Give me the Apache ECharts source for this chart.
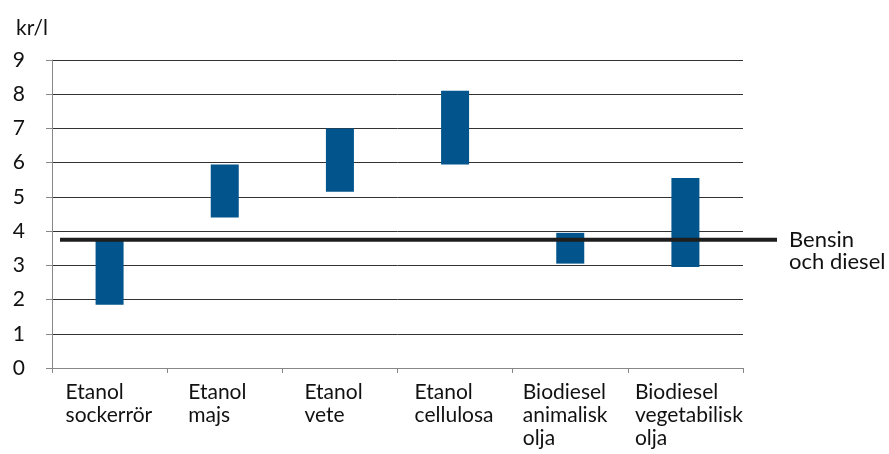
<!DOCTYPE html>
<html>
<head>
<meta charset="utf-8">
<script src="https://cdn.jsdelivr.net/npm/echarts@6/dist/echarts.min.js"></script>
<style>
  html, body { margin: 0; padding: 0; background: #fff; }
  #chart { width: 889px; height: 454px; }
</style>
</head>
<body>
<div id="chart"></div>
<script>
// kostnadsintervall per drivmedel (kr/l)
var categories = [
    'Etanol\nsockerrör',
    'Etanol\nmajs',
    'Etanol\nvete',
    'Etanol\ncellulosa',
    'Biodiesel\nanimalisk\nolja',
    'Biodiesel\nvegetabilisk\nolja'
];
var lowValues = [1.85, 4.4, 5.15, 5.95, 3.05, 2.95];
var highValues = [3.72, 5.95, 7.0, 8.1, 3.95, 5.55];
var referenceLevel = 3.75;
var referenceLabel = 'Bensin\noch diesel';
var yTicks = [0, 1, 2, 3, 4, 5, 6, 7, 8, 9];

var fontName = 'Lato';
// bredd på etikettboxarna (centrerade, texten vänsterställd)
var labelBoxWidths = [88, 73, 71, 81, 95, 101];

var chart = echarts.init(document.getElementById('chart'));

var spans = highValues.map(function (h, i) {
    return +(h - lowValues[i]).toFixed(2);
});

var richStyles = {};
labelBoxWidths.forEach(function (w, i) {
    richStyles['b' + i] = {
        width: w, align: 'left', fontSize: 21, lineHeight: 23,
        fontFamily: fontName, color: '#111'
    };
});

var options = {
    animation: false,
    textStyle: { fontFamily: fontName, color: '#111' },
    title: {
        text: 'kr/l',
        left: 11,
        top: 13,
        textStyle: { fontFamily: fontName, fontSize: 21, fontWeight: 'normal', color: '#111' }
    },
    grid: [
        { left: 52, right: 146, top: 60, bottom: 86 },
        { left: 60, right: 112, top: 60, bottom: 86 }
    ],
    xAxis: [
        {
            type: 'category',
            gridIndex: 0,
            data: categories,
            axisLine: { lineStyle: { color: '#888', width: 1 } },
            axisTick: { show: true, length: 5, lineStyle: { color: '#888' } },
            axisLabel: {
                interval: 0,
                margin: 13,
                color: '#111',
                fontFamily: fontName,
                fontSize: 21,
                formatter: function (v, idx) {
                    return v.split('\n').map(function (l) { return '{b' + idx + '|' + l + '}'; }).join('\n');
                },
                rich: richStyles
            }
        },
        { type: 'value', gridIndex: 1, min: 0, max: 1, show: false }
    ],
    yAxis: [
        {
            type: 'value',
            gridIndex: 0,
            min: yTicks[0],
            max: yTicks[yTicks.length - 1],
            interval: 1,
            axisLine: { show: true, lineStyle: { color: '#888' } },
            axisTick: { show: true, length: 6, lineStyle: { color: '#888' } },
            axisLabel: { margin: 27, fontSize: 21, color: '#111', fontFamily: fontName },
            splitLine: { lineStyle: { color: '#333', width: 1 } }
        },
        { type: 'value', gridIndex: 1, min: 0, max: 9, show: false }
    ],
    series: [
        {
            name: 'bas',
            type: 'bar',
            stack: 'range',
            xAxisIndex: 0,
            yAxisIndex: 0,
            barWidth: 28,
            itemStyle: { color: 'transparent' },
            data: lowValues
        },
        {
            name: 'intervall',
            type: 'bar',
            stack: 'range',
            xAxisIndex: 0,
            yAxisIndex: 0,
            barWidth: 28,
            itemStyle: { color: '#02558c' },
            data: spans
        },
        {
            name: 'Bensin och diesel',
            type: 'line',
            xAxisIndex: 1,
            yAxisIndex: 1,
            symbol: 'none',
            lineStyle: { color: '#1e1e1e', width: 4 },
            data: [[0, referenceLevel], [1, referenceLevel]],
            endLabel: {
                show: true,
                distance: 12,
                offset: [0, 11],
                formatter: function () { return referenceLabel; },
                fontFamily: fontName,
                fontSize: 22,
                lineHeight: 22,
                color: '#111'
            }
        }
    ]
};
chart.setOption(options);
</script>
</body>
</html>
